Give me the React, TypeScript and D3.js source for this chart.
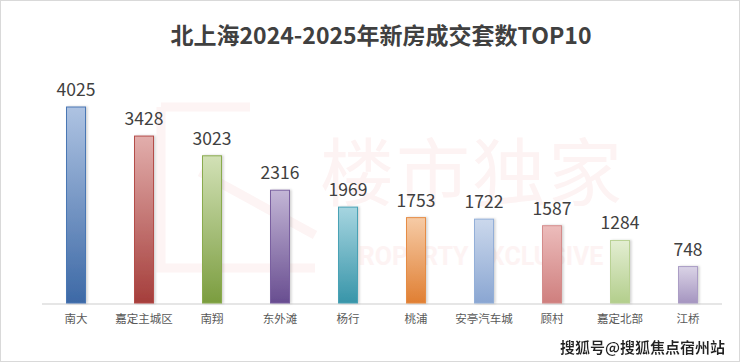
import React from 'react';
import * as d3 from 'd3';

const categories = ['南大', '嘉定主城区', '南翔', '东外滩', '杨行', '桃浦', '安亭汽车城', '顾村', '嘉定北部', '江桥'];
const values = [4025, 3428, 3023, 2316, 1969, 1753, 1722, 1587, 1284, 748];
// [top, bottom, stroke]
const barColors = [
  ['#aec3e2', '#3d69a6', '#4a77b4'],
  ['#e2aeac', '#a53e3b', '#b44d4a'],
  ['#d2e1b6', '#7b9d3f', '#8aab4e'],
  ['#c3b6d6', '#684d90', '#7a61a0'],
  ['#a6d5e0', '#3895a9', '#4aa2b5'],
  ['#f6cba6', '#e07f33', '#e68c45'],
  ['#cbd8ec', '#8aa6d2', '#93afd8'],
  ['#ecbcbb', '#cf7f7e', '#d48c8b'],
  ['#e3eed2', '#b3ce8c', '#b9d194'],
  ['#dad3e6', '#a595c0', '#ab9dc5'],
];

const W = 740;
const H = 362;
const baseY = 303;

export default function App() {
  const x = d3.scaleBand().domain(categories).range([42, 722]).paddingInner(0.72).paddingOuter(0.36);
  const y = d3.scaleLinear().domain([0, 4025]).range([baseY, 107]);
  const bw = 19;
  const font = '"Noto Sans CJK SC", "Open Sans", sans-serif';

  return (
    <svg width={W} height={H} style={{ position: 'absolute', left: 0, top: 0 }} fontFamily={font}>
      <defs>
        {barColors.map((c, i) => (
          <linearGradient key={i} id={`g${i}`} x1="0" y1="0" x2="0" y2="1">
            <stop offset="0%" stopColor={c[0]} />
            <stop offset="100%" stopColor={c[1]} />
          </linearGradient>
        ))}
        <filter id="sh" x="-30%" y="-10%" width="160%" height="120%">
          <feDropShadow dx="1.5" dy="0" stdDeviation="1.2" floodColor="#000" floodOpacity="0.18" />
        </filter>
        <filter id="wm" x="-10%" y="-30%" width="120%" height="160%">
          <feDropShadow dx="0" dy="0" stdDeviation="1.5" floodColor="#fff" floodOpacity="1" />
        </filter>
      </defs>
      <rect x={0.5} y={0.5} width={W - 1} height={H - 1} fill="#fff" stroke="#d9d9d9" />

      {/* faint background watermark */}
      <g fill="none" stroke="#fdf4f4" strokeWidth={9}>
        <path d="M161,107 L250,107 M161,107 L161,268 L315,268 M200,172 L315,235" />
      </g>
      <text x={472} y={200} textAnchor="middle" fontSize={74} fill="#fdf3f3" letterSpacing={2}>楼市独家</text>
      <text x={473} y={265} textAnchor="middle" fontSize={25} fontWeight="bold" fill="#fdf3f3" fontFamily="Roboto, sans-serif">PROPERTY EXCLUSIVE</text>

      <text x={381} y={44} textAnchor="middle" fontSize={23} fontWeight="bold" fill="#404040" letterSpacing={0}>
        北上海2024-2025年新房成交套数TOP10
      </text>

      <line x1={42} x2={722} y1={baseY + 1} y2={baseY + 1} stroke="#e6e6e6" strokeWidth={2} />

      {categories.map((c, i) => {
        const cx = (x(c) as number) + x.bandwidth() / 2;
        const top = y(values[i]);
        return (
          <g key={c}>
            <rect x={cx - bw / 2} y={top} width={bw} height={baseY - top} fill={`url(#g${i})`} stroke={barColors[i][2]} strokeWidth={1} filter="url(#sh)" />
            <text x={cx} y={top - 11} textAnchor="middle" fontSize={17.5} fill="#404040">{values[i]}</text>
            <text x={cx} y={323} textAnchor="middle" fontSize={11.5} fill="#595959">{c}</text>
          </g>
        );
      })}

      <text x={725} y={353} textAnchor="end" fontSize={15} fontWeight="bold" fill="#222" filter="url(#wm)">搜狐号@搜狐焦点宿州站</text>
    </svg>
  );
}
